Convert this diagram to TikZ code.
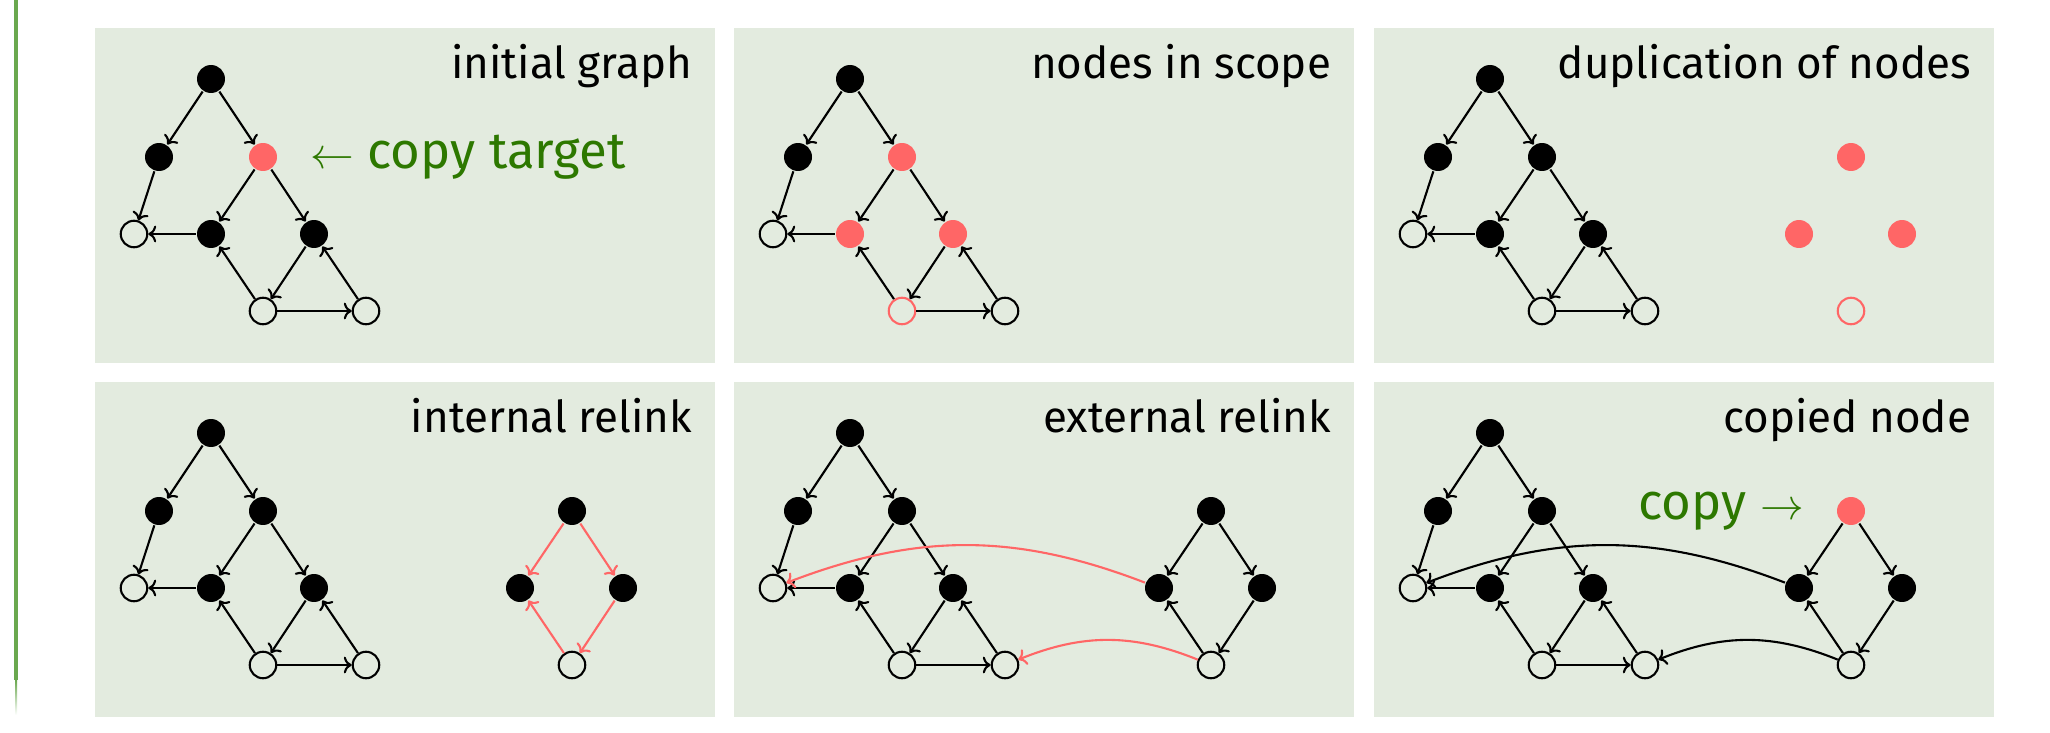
\documentclass[tikz,border=0pt]{standalone}
\usepackage{fontspec}
\setmainfont{Fira Sans}
\usetikzlibrary{positioning,arrows.meta}
\definecolor{panelbg}{HTML}{E3EBDF}
\definecolor{hlred}{HTML}{FF6666}
\definecolor{textgreen}{HTML}{2D7800}
\definecolor{linegreen}{HTML}{6AA84F}

\begin{document}
\begin{tikzpicture}[x=0.02cm, y=0.02cm, line width=1.2pt, >={To[length=4.5pt,width=9.5pt]},
  dot/.style={circle, inner sep=0pt, minimum size=0.56cm},
  hole/.style={circle, draw, inner sep=0pt, minimum size=0.53cm},
  heading/.style={font=\fontsize{25}{30}\selectfont, inner sep=0pt},
  lbl/.style={font=\fontsize{29}{34}\selectfont, text=textgreen, inner sep=0pt}]

\useasboundingbox (0,0) rectangle (2050,-733);

% sidebar line
\draw[linegreen, line width=2pt] (16,0) -- (16,-680);
\shade[top color=linegreen, bottom color=white] (15,-680) rectangle (17,-715);

% six panels, same base graph
\foreach \p/\px/\py/\cc/\ce/\cg/\pname in {1/95/28/hlred/black/black/initial graph,
  2/734/28/hlred/hlred/hlred/nodes in scope, 3/1374/28/black/black/black/duplication of nodes,
  4/95/382/black/black/black/internal relink, 5/734/382/black/black/black/external relink,
  6/1374/382/black/black/black/copied node}
{
\begin{scope}[shift={(\px,-\py)}]
\fill[panelbg] (0,0) rectangle (620,-335);
\node[heading, anchor=base east] (t\p) at (598,-51) {\pname};
\node[dot, fill=black] (a\p) at (116,-51) {};
\node[dot, fill=black] (b\p) at (64,-129) {};
\node[dot, fill=\cc] (c\p) at (168,-129) {};
\node[hole] (d\p) at (39,-206) {};
\node[dot, fill=\ce] (e\p) at (116,-206) {};
\node[dot, fill=\ce] (f\p) at (219,-206) {};
\node[hole, draw=\cg] (g\p) at (168,-283) {};
\node[hole] (h\p) at (271,-283) {};
\foreach \s/\t in {a/b,a/c,b/d,c/e,c/f,e/d,g/e,f/g,h/f,g/h}
  \draw[->] (\s\p) -- (\t\p);
\end{scope}
}

% the copies
\foreach \p/\px/\py/\cc/\ce in {3/1374/28/hlred/hlred, 4/95/382/black/black,
  5/734/382/black/black, 6/1374/382/hlred/black}
{
\begin{scope}[shift={(\px,-\py)}]
\node[dot, fill=\cc] (copyc\p) at (477,-129) {};
\node[dot, fill=\ce] (copye\p) at (425,-206) {};
\node[dot, fill=\ce] (copyf\p) at (528,-206) {};
\node[hole, draw=\ce] (copyg\p) at (477,-283) {};
\end{scope}
}
\foreach \p/\ec in {4/hlred,5/black,6/black}
  \foreach \s/\t in {c/e,c/f,f/g,g/e}
    \draw[->, draw=\ec] (copy\s\p) -- (copy\t\p);

% relinks
\draw[->, hlred] (copye5) to[out=159, in=21] (d5);
\draw[->, hlred] (copyg5) to[out=158, in=22] (h5);
\draw[->] (copye6) to[out=159, in=21] (d6);
\draw[->] (copyg6) to[out=158, in=22] (h6);

\node[lbl, right=0.62cm of c1] (target) {$\leftarrow$ copy target};
\node[lbl, left=0.62cm of copyc6] (copylbl) {copy $\rightarrow$};

\end{tikzpicture}
\end{document}
